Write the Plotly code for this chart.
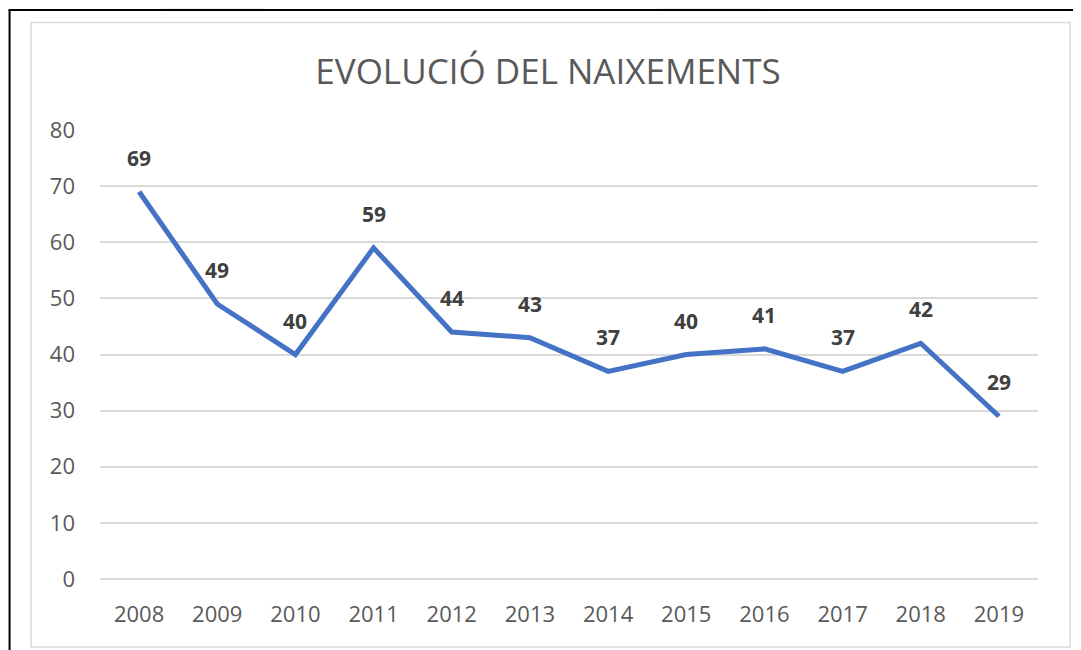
import plotly.graph_objects as go

years = ["2008", "2009", "2010", "2011", "2012", "2013", "2014", "2015", "2016", "2017", "2018", "2019"]
births = [69, 49, 40, 59, 44, 43, 37, 40, 41, 37, 42, 29]
y_ticks = [0, 10, 20, 30, 40, 50, 60, 70, 80]
title_text = "EVOLUCIÓ DEL NAIXEMENTS"

OFF = 8  # page body margin in the browser
W, H = 1081 - OFF, 650 - OFF
L, R, T, B = 99.5 - OFF, 1038 - OFF, 130 - OFF, 579 - OFF

def px(x):
    return (x - OFF - L) / (R - L)

def py(y):
    return (B - (y - OFF)) / (B - T)

xpos = list(range(len(years)))

fig = go.Figure()
fig.add_trace(go.Scatter(
    x=xpos, y=births, mode="lines",
    line=dict(color="#4472C4", width=5),
    hoverinfo="y", showlegend=False,
))

for xi, v in zip(xpos, births):
    fig.add_annotation(x=xi, y=v, text=f"<b>{v}</b>", showarrow=False,
                       yshift=34, font=dict(family="Open Sans", size=21, color="#404040"))

shapes = []
shapes.append(dict(type="path", xref="paper", yref="paper", layer="below",
                   path=f"M {px(160)} {py(8)} L {px(263)} {py(8)} L {px(265)} {py(9)} L {px(163)} {py(9)} Z",
                   fillcolor="#efefef", line=dict(width=0)))
shapes.append(dict(type="path", xref="paper", yref="paper", layer="below",
                   path=f"M {px(657)} {py(8)} L {px(763)} {py(8)} L {px(761)} {py(9)} L {px(659)} {py(9)} Z",
                   fillcolor="#efefef", line=dict(width=0)))
shapes.append(dict(type="rect", xref="paper", yref="paper",
                   x0=px(30.5), x1=px(1070), y0=py(647), y1=py(22.5),
                   line=dict(color="#d9d9d9", width=1.5), layer="below"))
shapes.append(dict(type="line", xref="paper", yref="paper",
                   x0=px(9), x1=px(9), y0=py(10), y1=py(652),
                   line=dict(color="#000000", width=2)))
shapes.append(dict(type="line", xref="paper", yref="paper",
                   x0=px(8), x1=px(1083), y0=py(10), y1=py(10),
                   line=dict(color="#000000", width=2)))

fig.update_layout(
    width=W, height=H,
    margin=dict(l=L, r=W - R, t=T, b=H - B, autoexpand=False),
    paper_bgcolor="white", plot_bgcolor="white",
    title=dict(text=title_text, x=(548 - OFF) / W, xanchor="center",
               y=1 - (72 - OFF) / H, yanchor="middle",
               font=dict(family="Open Sans", size=35, color="#595959")),
    shapes=shapes,
    xaxis=dict(range=[-0.5, len(years) - 0.5], tickvals=xpos, ticktext=years,
               showgrid=False, showline=False, zeroline=False, automargin=False,
               tickfont=dict(family="Open Sans", size=22, color="#595959"),
               ticklabelstandoff=20, ticks=""),
    yaxis=dict(range=[0, 80], tickvals=y_ticks, showgrid=True, automargin=False,
               gridcolor="#d9d9d9", gridwidth=1.5, zeroline=True,
               zerolinecolor="#d9d9d9", zerolinewidth=1.5, showline=False,
               tickfont=dict(family="Open Sans", size=22, color="#595959"),
               ticklabelstandoff=24, ticks=""),
)

fig.write_html("out.html")
